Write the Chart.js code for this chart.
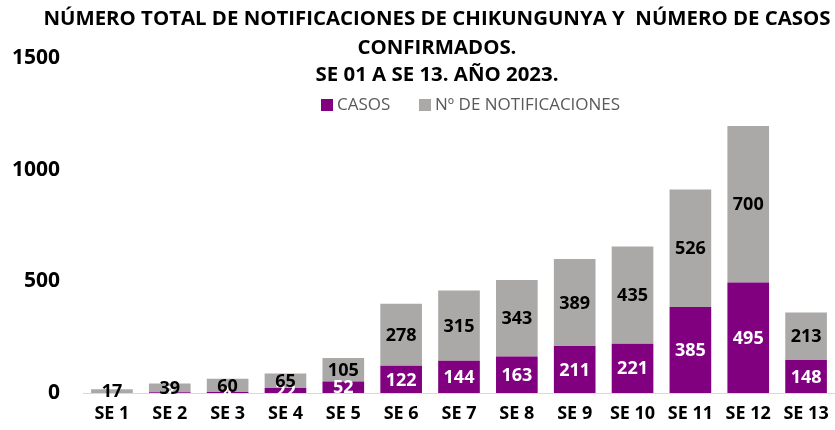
<!DOCTYPE html>
<html>
<head>
<meta charset="utf-8">
<script src="https://cdn.jsdelivr.net/npm/chart.js@4/dist/chart.umd.min.js"></script>
<style>
html,body{margin:0;padding:0;background:#fff;}
#wrap{width:835px;height:430px;position:relative;}
</style>
</head>
<body>
<div id="wrap"><canvas id="c" width="835" height="430"></canvas></div>
<script>
const categories = ["SE 1","SE 2","SE 3","SE 4","SE 5","SE 6","SE 7","SE 8","SE 9","SE 10","SE 11","SE 12","SE 13"];
const casos = [0, 3, 4, 22, 52, 122, 144, 163, 211, 221, 385, 495, 148];
const notificaciones = [17, 39, 60, 65, 105, 278, 315, 343, 389, 435, 526, 700, 213];
const yTicks = [0, 500, 1000, 1500];
const titleLines = ["NÚMERO TOTAL DE NOTIFICACIONES DE CHIKUNGUNYA Y  NÚMERO DE CASOS", "CONFIRMADOS.", "SE 01 A SE 13. AÑO 2023."];
const seriesNames = ["CASOS", "Nº DE NOTIFICACIONES"];

const FONT = "'Open Sans', sans-serif";
const PURPLE = "#800080";
const GREY = "#ABA8A8";

const labelPlugin = {
  id: 'labels',
  afterDatasetsDraw(chart) {
    const ctx = chart.ctx;
    ctx.save();
    ctx.font = "bold 18px " + FONT;
    ctx.textAlign = 'center';
    ctx.textBaseline = 'middle';
    const colors = ['#ffffff', '#000000'];
    chart.data.datasets.forEach((ds, di) => {
      const meta = chart.getDatasetMeta(di);
      meta.data.forEach((el, i) => {
        const v = ds.data[i];
        if (!v) return;
        ctx.fillStyle = colors[di];
        ctx.fillText(String(v), el.x, (el.y + el.base) / 2 + 1);
      });
    });
    ctx.restore();
  }
};

const headerPlugin = {
  id: 'header',
  afterDraw(chart) {
    const ctx = chart.ctx;
    ctx.save();
    ctx.font = "bold 20.4px " + FONT;
    ctx.fillStyle = '#000';
    ctx.textAlign = 'center';
    ctx.textBaseline = 'middle';
    const ys = [19, 48, 75];
    titleLines.forEach((t, i) => ctx.fillText(t, 437, ys[i]));
    // legend
    ctx.font = "17px " + FONT;
    ctx.textAlign = 'left';
    const items = [{x: 321, c: PURPLE}, {x: 419, c: GREY}];
    chart.data.datasets.forEach((ds, i) => {
      ctx.fillStyle = ds.backgroundColor;
      ctx.fillRect(items[i].x, 99, 12, 12);
      ctx.fillStyle = '#595959';
      ctx.fillText(ds.label, items[i].x + 16, 105);
    });
    ctx.restore();
  }
};

new Chart(document.getElementById('c'), {
  type: 'bar',
  data: {
    labels: categories,
    datasets: [
      {label: seriesNames[0], data: casos, backgroundColor: PURPLE, stack: 's'},
      {label: seriesNames[1], data: notificaciones, backgroundColor: GREY, stack: 's'}
    ]
  },
  options: {
    responsive: false,
    animation: false,
    devicePixelRatio: 1,
    layout: {padding: {top: 58, right: 0, left: 0, bottom: 0}},
    plugins: {legend: {display: false}, title: {display: false}, tooltip: {enabled: false}},
    scales: {
      x: {
        stacked: true,
        categoryPercentage: 0.57,
        barPercentage: 1,
        grid: {display: false},
        border: {display: true, color: '#D9D9D9', width: 1},
        afterFit(axis) { axis.height = 37; },
        ticks: {color: '#000', font: {family: FONT, size: 18, weight: 'bold'}, padding: 2, maxRotation: 0}
      },
      y: {
        stacked: true,
        min: 0, max: 1500,
        afterBuildTicks(axis) { axis.ticks = yTicks.map(v => ({value: v})); },
        afterFit(axis) { axis.width = 83; },
        grid: {display: false},
        border: {display: false},
        ticks: {color: '#000', font: {family: FONT, size: 21, weight: 'bold'}, padding: 15, callback: v => String(v)}
      }
    }
  },
  plugins: [labelPlugin, headerPlugin]
});
</script>
</body>
</html>
